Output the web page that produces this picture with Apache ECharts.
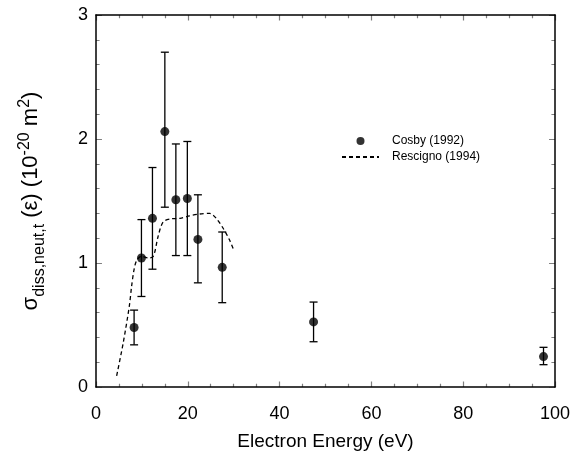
<!DOCTYPE html>
<html>
<head>
<meta charset="utf-8">
<script src="https://cdn.jsdelivr.net/npm/echarts@6/dist/echarts.min.js"></script>
<style>
  html, body { margin: 0; padding: 0; background: #fff; }
  #chart { width: 573px; height: 461px; }
</style>
</head>
<body>
<div id="chart"></div>
<script>
// Cosby (1992) measurements
const cosbyEnergy = [8.3, 9.9, 12.3, 15.0, 17.4, 19.9, 22.2, 27.5, 47.4, 97.5]
const cosbyValue = [0.48, 1.04, 1.36, 2.06, 1.51, 1.52, 1.19, 0.965, 0.525, 0.245]
const cosbyLow = [0.34, 0.73, 0.95, 1.45, 1.06, 1.06, 0.84, 0.68, 0.365, 0.18]
const cosbyHigh = [0.62, 1.35, 1.77, 2.70, 1.96, 1.98, 1.55, 1.25, 0.685, 0.32]

// Rescigno (1994) calculation
const rescignoEnergy = [4.5, 5.9, 7.25, 7.75, 8.26, 8.85, 9.9, 11.4, 12.5, 13.5, 14.6, 16.1, 18.3, 20.4, 22.6, 24.8, 26.2, 27.7, 29.1, 30.0]
const rescignoValue = [0.09, 0.35, 0.65, 0.81, 0.94, 1.02, 1.055, 1.04, 1.055, 1.21, 1.33, 1.355, 1.36, 1.38, 1.395, 1.40, 1.36, 1.28, 1.185, 1.105]

// frame ticks (drawn inward on all four sides)
const xMajorTicks = [0, 20, 40, 60, 80, 100]
const xMinorTicks = [5, 10, 15, 25, 30, 35, 45, 50, 55, 65, 70, 75, 85, 90, 95]
const yMajorTicks = [0, 1, 2, 3]
const yMinorTicks = [0.2, 0.4, 0.6, 0.8, 1.2, 1.4, 1.6, 1.8, 2.2, 2.4, 2.6, 2.8]

const font = 'Liberation Sans, Arial, Helvetica, sans-serif'

const chart = echarts.init(document.getElementById('chart'))

const errData = cosbyEnergy.map((e, i) => [e, cosbyLow[i], cosbyHigh[i]])

function frameAxis (min, max, interval, position, label) {
  return {
    type: 'value',
    min,
    max,
    interval,
    position,
    axisLine: { show: true, onZero: false, lineStyle: { color: '#000', width: 1.5 } },
    axisTick: { show: false },
    axisLabel: label ? Object.assign({ fontFamily: font, fontSize: 18, color: '#000' }, label) : { show: false },
    splitLine: { show: false }
  }
}

const xMain = frameAxis(0, 100, 20, 'bottom', { margin: 18 })
xMain.name = 'Electron Energy (eV)'
xMain.nameLocation = 'middle'
xMain.nameGap = 45
xMain.nameTextStyle = { fontFamily: font, fontSize: 19, color: '#000' }

const yMain = frameAxis(0, 3, 1, 'left', { margin: 8 })
yMain.name = '{a|σ}{sub|diss,neut,t}{a| (ε) (10}{sup|-20}{a| m}{sup|2}{a|)}'
yMain.nameLocation = 'middle'
yMain.nameGap = 54
yMain.nameTextStyle = {
  rich: {
    a: { fontFamily: font, fontSize: 22, color: '#000', verticalAlign: 'bottom', lineHeight: 25 },
    sub: { fontFamily: font, fontSize: 16, color: '#000', verticalAlign: 'bottom', lineHeight: 25, padding: [0, 0, -6, 0] },
    sup: { fontFamily: font, fontSize: 16, color: '#000', verticalAlign: 'top', lineHeight: 25, padding: [0, 0, 7, 0] }
  }
}

// tick segments as line series pairs: each tick is a 2-point line in data space
const tickStyle = { color: '#000', width: 1.2, type: 'solid' }
const xTickLen = 0.045 // in y units
const yTickLen = 1.3 // in x units
function tickSeries (pairs) {
  return {
    type: 'lines',
    coordinateSystem: 'cartesian2d',
    silent: true,
    z: 6,
    lineStyle: tickStyle,
    data: pairs.map(p => ({ coords: p }))
  }
}
const xTickPairs = []
xMajorTicks.forEach(v => {
  xTickPairs.push([[v, 0], [v, xTickLen]])
  xTickPairs.push([[v, 3], [v, 3 - xTickLen]])
})
xMinorTicks.forEach(v => {
  xTickPairs.push([[v, 0], [v, xTickLen * 0.6]])
  xTickPairs.push([[v, 3], [v, 3 - xTickLen * 0.6]])
})
const yTickPairs = []
yMajorTicks.forEach(v => {
  yTickPairs.push([[0, v], [yTickLen, v]])
  yTickPairs.push([[100, v], [100 - yTickLen, v]])
})
yMinorTicks.forEach(v => {
  yTickPairs.push([[0, v], [yTickLen * 0.6, v]])
  yTickPairs.push([[100, v], [100 - yTickLen * 0.6, v]])
})

const option = {
  animation: false,
  backgroundColor: '#fff',
  grid: { left: 96, right: 17, top: 15, bottom: 74 },
  legend: {
    orient: 'vertical',
    left: 336,
    top: 130,
    itemGap: 4,
    itemWidth: 37,
    itemHeight: 8,
    textStyle: { fontFamily: font, fontSize: 12, color: '#000', padding: [0, 0, 0, 8] },
    data: [
      { name: 'Cosby (1992)', icon: 'circle' },
      { name: 'Rescigno (1994)', itemStyle: { opacity: 0 } }
    ]
  },
  xAxis: [
    xMain,
    frameAxis(0, 100, 20, 'top')
  ],
  yAxis: [
    yMain,
    frameAxis(0, 3, 1, 'right')
  ],
  series: [
    tickSeries(xTickPairs),
    tickSeries(yTickPairs),
    {
      name: 'Rescigno (1994)',
      type: 'line',
      data: rescignoEnergy.map((e, i) => [e, rescignoValue[i]]),
      smooth: 0.3,
      showSymbol: false,
      symbol: 'none',
      color: '#000',
      lineStyle: { color: '#000', width: 1.3, type: [4, 3] }
    },
    {
      name: 'errorbars',
      type: 'custom',
      data: errData,
      z: 3,
      renderItem (params, api) {
        const x = api.value(0)
        const lo = api.coord([x, api.value(1)])
        const hi = api.coord([x, api.value(2)])
        const cap = 4
        const style = { stroke: '#000', lineWidth: 1.3 }
        return {
          type: 'group',
          children: [
            { type: 'line', shape: { x1: lo[0], y1: lo[1], x2: hi[0], y2: hi[1] }, style },
            { type: 'line', shape: { x1: lo[0] - cap, y1: lo[1], x2: lo[0] + cap, y2: lo[1] }, style },
            { type: 'line', shape: { x1: hi[0] - cap, y1: hi[1], x2: hi[0] + cap, y2: hi[1] }, style }
          ]
        }
      }
    },
    {
      name: 'Cosby (1992)',
      type: 'scatter',
      data: cosbyEnergy.map((e, i) => [e, cosbyValue[i]]),
      symbol: 'circle',
      symbolSize: 9,
      color: '#000',
      itemStyle: { color: '#000' },
      z: 4
    }
  ]
}

chart.setOption(option)
</script>
</body>
</html>
